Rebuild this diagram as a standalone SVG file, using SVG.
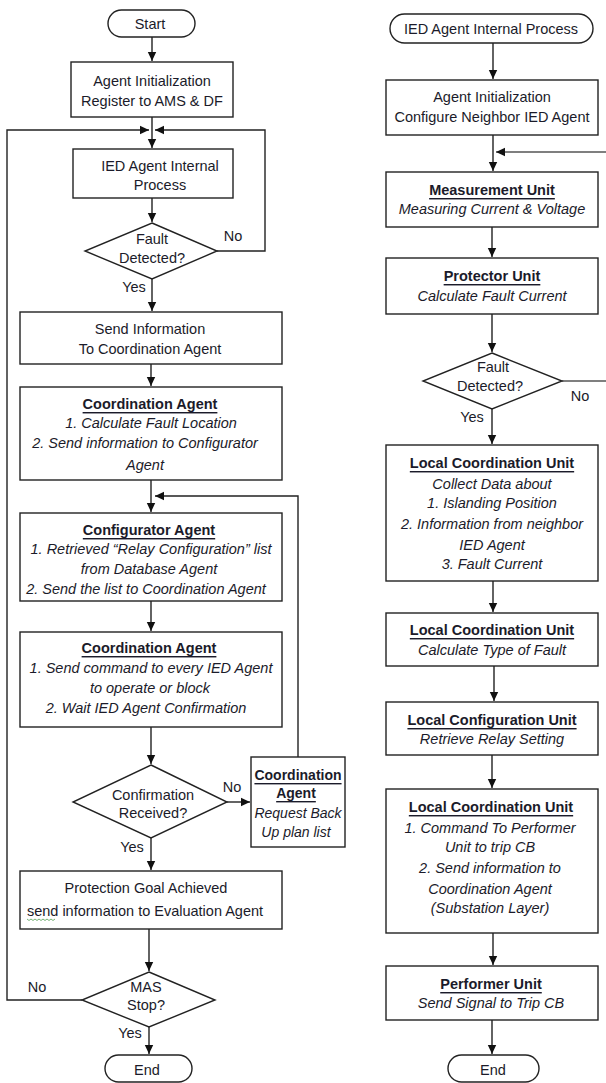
<svg xmlns="http://www.w3.org/2000/svg" width="606" height="1083" viewBox="0 0 606 1083">
<style>
text{font-family:"Liberation Sans",Arial,sans-serif;font-size:14.5px;fill:#1b1b2a;text-anchor:middle;dominant-baseline:central}
.b{font-weight:bold;text-decoration:underline}
.i{font-style:italic}
.s{font-size:14px}
.box{fill:#fff;stroke:#222;stroke-width:1.4}
.c{fill:none;stroke:#222;stroke-width:1.4}
.g{fill:none;stroke:#555;stroke-width:1.4}
</style>
<defs>
<marker id="ah" markerUnits="userSpaceOnUse" markerWidth="10" markerHeight="10" refX="9" refY="5" orient="auto">
<path d="M0,0.8 L9,5 L0,9.2 z" fill="#111"/>
</marker>
</defs>
<rect width="606" height="1083" fill="#fff"/>

<g id="connectors">
<path class="c" d="M152,37 V61" marker-end="url(#ah)"/>
<path class="c" d="M152,117 V148" marker-end="url(#ah)"/>
<path class="c" d="M217,251 H265 V130 H155" marker-end="url(#ah)"/>
<path class="c" d="M82,1000 H7 V130 H149" marker-end="url(#ah)"/>
<path class="c" d="M152,198 V222" marker-end="url(#ah)"/>
<path class="c" d="M152,279 V311" marker-end="url(#ah)"/>
<path class="c" d="M151,364 V386" marker-end="url(#ah)"/>
<path class="c" d="M151,480 V512" marker-end="url(#ah)"/>
<path class="c" d="M298,757 V496 H155" marker-end="url(#ah)"/>
<path class="c" d="M151,601 V631" marker-end="url(#ah)"/>
<path class="c" d="M151,727 V764" marker-end="url(#ah)"/>
<path class="c" d="M227,802 H250" marker-end="url(#ah)"/>
<path class="c" d="M151,838 V870" marker-end="url(#ah)"/>
<path class="c" d="M149,929 V971" marker-end="url(#ah)"/>
<path class="c" d="M149,1027 V1054" marker-end="url(#ah)"/>

<path class="c" d="M493,43 V79" marker-end="url(#ah)"/>
<path class="c" d="M493,135 V171" marker-end="url(#ah)"/>
<path class="g" d="M562,381 H612 V152 H496" marker-end="url(#ah)"/>
<path class="c" d="M492,227 V257" marker-end="url(#ah)"/>
<path class="c" d="M492,314 V352" marker-end="url(#ah)"/>
<path class="c" d="M492,409 V444" marker-end="url(#ah)"/>
<path class="c" d="M493,581 V612" marker-end="url(#ah)"/>
<path class="c" d="M494,666 V701" marker-end="url(#ah)"/>
<path class="c" d="M492,755 V788" marker-end="url(#ah)"/>
<path class="c" d="M493,933 V965" marker-end="url(#ah)"/>
<path class="c" d="M492,1020 V1054" marker-end="url(#ah)"/>
</g>

<g id="labels">
<text x="233" y="236">No</text>
<text x="134" y="287">Yes</text>
<text x="232" y="787">No</text>
<text x="132" y="847">Yes</text>
<text x="37" y="987">No</text>
<text x="130" y="1033">Yes</text>
<text x="580" y="396">No</text>
<text x="472" y="417">Yes</text>
</g>

<g id="start">
<rect class="box" x="108" y="10" width="87" height="27" rx="13.5"/>
<text x="150" y="24">Start</text>
</g>
<g id="init">
<rect class="box" x="71" y="62" width="162" height="55"/>
<text x="152" y="81">Agent Initialization</text>
<text x="152" y="101">Register to AMS &amp; DF</text>
</g>
<g id="ied-process">
<rect class="box" x="73" y="149" width="160" height="49"/>
<text x="160" y="166">IED Agent Internal</text>
<text x="160" y="185">Process</text>
</g>
<g id="fault-detected">
<path class="box" d="M152,223 L217,251 L152,279 L85,251 z"/>
<text x="152" y="239">Fault</text>
<text x="152" y="258">Detected?</text>
</g>
<g id="send-info">
<rect class="box" x="20" y="312" width="262" height="52"/>
<text x="150" y="329">Send Information</text>
<text x="150" y="349">To Coordination Agent</text>
</g>
<g id="coord-agent-1">
<rect class="box" x="20" y="387" width="262" height="93"/>
<text class="b" x="150" y="404">Coordination Agent</text>
<text class="i" x="151" y="423">1. Calculate Fault Location</text>
<text class="i" x="145" y="443">2. Send information to Configurator</text>
<text class="i" x="145" y="465">Agent</text>
</g>
<g id="configurator-agent">
<rect class="box" x="20" y="513" width="262" height="88"/>
<text class="b" x="149" y="530">Configurator Agent</text>
<text class="i" x="151" y="549">1. Retrieved “Relay Configuration” list</text>
<text class="i" x="149" y="569">from Database Agent</text>
<text class="i" x="146" y="589">2. Send the list to Coordination Agent</text>
</g>
<g id="coord-agent-2">
<rect class="box" x="20" y="632" width="262" height="95"/>
<text class="b" x="149" y="648">Coordination Agent</text>
<text class="i" x="151" y="668">1. Send command to every IED Agent</text>
<text class="i" x="150" y="688">to operate or block</text>
<text class="i" x="146" y="708">2. Wait IED Agent Confirmation</text>
</g>
<g id="confirmation">
<path class="box" d="M151,765 L227,802 L151,838 L73,802 z"/>
<text x="153" y="795">Confirmation</text>
<text x="153" y="813">Received?</text>
</g>
<g id="coord-agent-backup">
<rect class="box" x="251" y="757" width="94" height="90"/>
<text class="b s" x="298" y="775">Coordination</text>
<text class="b s" x="296" y="793">Agent</text>
<text class="i s" x="298" y="813">Request Back</text>
<text class="i s" x="296" y="832">Up plan list</text>
</g>
<g id="goal-achieved">
<rect class="box" x="20" y="871" width="262" height="58"/>
<text x="146" y="888">Protection Goal Achieved</text>
<text x="145" y="911">send information to Evaluation Agent</text>
<path d="M27,919 l2,1.5 l2,-1.5 l2,1.5 l2,-1.5 l2,1.5 l2,-1.5 l2,1.5 l2,-1.5 l2,1.5 l2,-1.5 l2,1.5 l2,-1.5 l2,1.5 l2,-1.5" fill="none" stroke="#6a6" stroke-width="0.9"/>
</g>
<g id="mas-stop">
<path class="box" d="M149,972 L215,1000 L149,1027 L82,1000 z"/>
<text x="146" y="987">MAS</text>
<text x="146" y="1005">Stop?</text>
</g>
<g id="end-left">
<rect class="box" x="105" y="1055" width="87" height="27" rx="13.5"/>
<text x="147" y="1070">End</text>
</g>

<g id="ied-terminal">
<rect class="box" x="390" y="14" width="203" height="29" rx="14.5"/>
<text x="491" y="29">IED Agent Internal Process</text>
</g>
<g id="init-right">
<rect class="box" x="386" y="80" width="212" height="55"/>
<text x="492" y="97">Agent Initialization</text>
<text x="492" y="117">Configure Neighbor IED Agent</text>
</g>
<g id="measurement">
<rect class="box" x="386" y="172" width="212" height="55"/>
<text class="b" x="492" y="190">Measurement Unit</text>
<text class="i" x="492" y="209">Measuring Current &amp; Voltage</text>
</g>
<g id="protector">
<rect class="box" x="386" y="258" width="212" height="56"/>
<text class="b" x="492" y="276">Protector Unit</text>
<text class="i" x="492" y="296">Calculate Fault Current</text>
</g>
<g id="fault-detected-right">
<path class="box" d="M492,353 L562,381 L492,409 L423,381 z"/>
<text x="493" y="367">Fault</text>
<text x="490" y="386">Detected?</text>
</g>
<g id="lcu-1">
<rect class="box" x="386" y="445" width="212" height="136"/>
<text class="b" x="492" y="463">Local Coordination Unit</text>
<text class="i" x="492" y="484">Collect Data about</text>
<text class="i" x="492" y="503">1. Islanding Position</text>
<text class="i" x="492" y="524">2. Information from neighbor</text>
<text class="i" x="492" y="545">IED Agent</text>
<text class="i" x="492" y="564">3. Fault Current</text>
</g>
<g id="lcu-2">
<rect class="box" x="386" y="613" width="212" height="53"/>
<text class="b" x="492" y="630">Local Coordination Unit</text>
<text class="i" x="492" y="650">Calculate Type of Fault</text>
</g>
<g id="lconf">
<rect class="box" x="386" y="702" width="212" height="53"/>
<text class="b" x="492" y="720">Local Configuration Unit</text>
<text class="i" x="492" y="739">Retrieve Relay Setting</text>
</g>
<g id="lcu-3">
<rect class="box" x="386" y="789" width="212" height="144"/>
<text class="b" x="491" y="807">Local Coordination Unit</text>
<text class="i" x="490" y="828">1. Command To Performer</text>
<text class="i" x="490" y="847">Unit to trip CB</text>
<text class="i" x="490" y="868">2. Send information to</text>
<text class="i" x="490" y="889">Coordination Agent</text>
<text class="i" x="490" y="908">(Substation Layer)</text>
</g>
<g id="performer">
<rect class="box" x="386" y="966" width="212" height="54"/>
<text class="b" x="491" y="984">Performer Unit</text>
<text class="i" x="491" y="1003">Send Signal to Trip CB</text>
</g>
<g id="end-right">
<rect class="box" x="448" y="1055" width="91" height="27" rx="13.5"/>
<text x="493" y="1070">End</text>
</g>
</svg>
